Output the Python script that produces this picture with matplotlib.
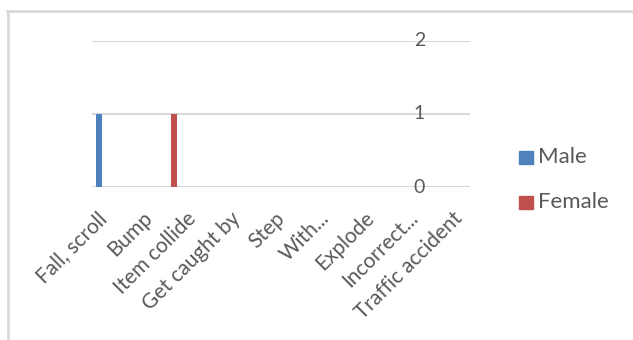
import matplotlib
matplotlib.use("Agg")
import matplotlib.pyplot as plt
from matplotlib.patches import Rectangle
from matplotlib.lines import Line2D
from matplotlib.transforms import ScaledTranslation
import numpy as np

categories = ["Fall, scroll", "Bump", "Item collide", "Get caught by", "Step",
              "With...", "Explode", "Incorrect...", "Traffic accident"]
male = [1, 0, 0, 0, 0, 0, 0, 0, 0]
female = [0, 1, 0, 0, 0, 0, 0, 0, 0]
y_ticks = [0, 1, 2]

MALE_C = "#4F81BD"
FEMALE_C = "#C0504D"
TEXT_C = "#595959"
GRID_C = "#D9D9D9"

plt.rcParams["font.family"] = ["Lato", "DejaVu Sans"]

W, H = 633, 340
DPI = 100
fig = plt.figure(figsize=(W / DPI, H / DPI), dpi=DPI)

# chart frame (top and left edges visible)
fig.add_artist(Line2D([7 / W, 1], [1 - 11 / H, 1 - 11 / H], color=GRID_C, lw=2))
fig.add_artist(Line2D([8 / W, 8 / W], [0, 1 - 11 / H], color=GRID_C, lw=2))

left, right, top, bottom = 92, 470, 40.7, 187
cat_px = 44.4  # width of one category slot
ax = fig.add_axes([left / W, 1 - bottom / H, (right - left) / W, (bottom - top) / H])
ax.set_xlim(-0.5, -0.5 + (right - left) / cat_px)
ax.set_ylim(0, 2)
for s in ax.spines.values():
    s.set_visible(False)

for t in y_ticks:
    ax.axhline(t, color=GRID_C, lw=1.5, zorder=0)

x = np.arange(len(categories))
bw = 6 / cat_px
ax.bar(x - 0.345, male, width=bw, color=MALE_C, zorder=2)
ax.bar(x + 0.345, female, width=bw, color=FEMALE_C, zorder=2)

ax.set_xticks([])
ax.set_yticks([])

# rotated category labels hanging below the baseline
lab_tr = ax.get_xaxis_transform() + ScaledTranslation(-17 / DPI, -21 / DPI, fig.dpi_scale_trans)
for xi, name in zip(x, categories):
    ax.text(xi, 0, name, transform=lab_tr, rotation=45, rotation_mode="anchor",
            ha="right", va="top", fontsize=15, color=TEXT_C, clip_on=False)

# value axis labels sit left of the axis crossing
val_x = (425 - left) / cat_px - 0.5
for t in y_ticks:
    ax.text(val_x, t, str(t), ha="right", va="center", fontsize=14, color=TEXT_C)

# legend
for i, (name, c) in enumerate([("Male", MALE_C), ("Female", FEMALE_C)]):
    yc = 157 + i * 45
    fig.add_artist(Rectangle((519 / W, 1 - (yc + 6.5) / H), 13.5 / W, 13 / H,
                             color=c, transform=fig.transFigure))
    fig.text(538 / W, 1 - yc / H, name, ha="left", va="center",
             fontsize=16, color=TEXT_C)

fig.savefig("out.png", dpi=DPI)
